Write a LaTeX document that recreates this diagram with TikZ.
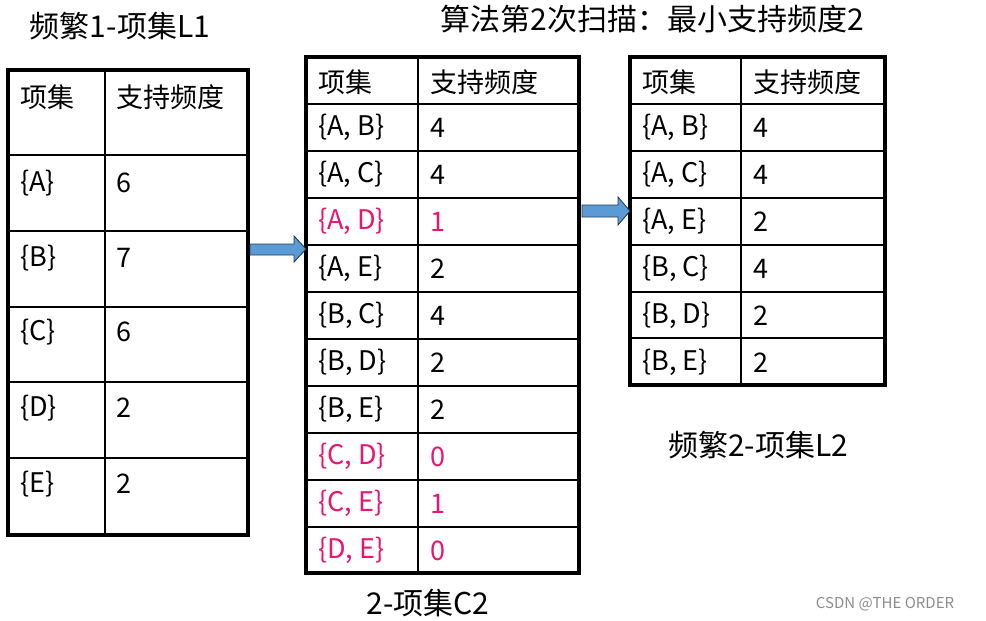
\documentclass[tikz,border=0pt]{standalone}
\usepackage{fontspec}
\setmainfont{Noto Sans CJK SC}
\definecolor{redt}{RGB}{235,20,110}
\definecolor{arrb}{RGB}{91,155,213}
\tikzset{x=1pt,y=-1pt,
 outer/.style={line width=3.2pt},
 inner/.style={line width=1.8pt},
 cell/.style={anchor=west,font=\fontsize{27}{30}\selectfont,inner sep=0pt},
 ttl/.style={font=\fontsize{30}{33}\selectfont,inner sep=0pt},
 barrow/.style={draw=black!60!arrb,fill=arrb,line width=0.9pt,line join=miter}}
\begin{document}
\begin{tikzpicture}
\useasboundingbox (0,0) rectangle (986,621);
% table 1
\foreach \y in {155,231,307,382,458} \draw[inner] (8,\y) -- (248,\y);
\draw[inner] (105,70) -- (105,535);
\draw[outer] (8,70) rectangle (248,535);
\node[cell] (h1a) at (20,97) {项集};
\node[cell] (h1b) at (116,97) {支持频度};
\foreach \t/\v/\y [count=\i] in {{\{A\}}/6/183,{\{B\}}/7/258,{\{C\}}/6/332,{\{D\}}/2/408,{\{E\}}/2/484}{
 \node[cell] (a\i) at (20,\y) {\t};
 \node[cell] (av\i) at (116,\y) {\v};}
% table 2
\foreach \y in {104,151,198,245,292,339,386,433,480,527} \draw[inner] (306,\y) -- (579,\y);
\draw[inner] (418,57) -- (418,573);
\draw[outer] (306,57) rectangle (579,573);
\node[cell] (h2a) at (318,82) {项集};
\node[cell] (h2b) at (430,82) {支持频度};
\foreach \t/\v/\c [count=\i] in {{\{A, B\}}/4/black,{\{A, C\}}/4/black,{\{A, D\}}/1/redt,{\{A, E\}}/2/black,{\{B, C\}}/4/black,{\{B, D\}}/2/black,{\{B, E\}}/2/black,{\{C, D\}}/0/redt,{\{C, E\}}/1/redt,{\{D, E\}}/0/redt}{
 \node[cell,text=\c] (b\i) at (318,{80.5+47*\i}) {\t};
 \node[cell,text=\c] (bv\i) at (430,{80.5+47*\i}) {\v};}
% table 3
\foreach \y in {104,151,198,245,292,338} \draw[inner] (630,\y) -- (885,\y);
\draw[inner] (741,57) -- (741,385);
\draw[outer] (630,57) rectangle (885,385);
\node[cell] (h3a) at (642,82) {项集};
\node[cell] (h3b) at (753,82) {支持频度};
\foreach \t/\v [count=\i] in {{\{A, B\}}/4,{\{A, C\}}/4,{\{A, E\}}/2,{\{B, C\}}/4,{\{B, D\}}/2,{\{B, E\}}/2}{
 \node[cell] (c\i) at (642,{80.5+47*\i}) {\t};
 \node[cell] (cv\i) at (753,{80.5+47*\i}) {\v};}
% arrows
\draw[barrow] (250,244) -- (294,244) -- (294,236) -- (306,249) -- (294,262) -- (294,255) -- (250,255) -- cycle;
\draw[barrow] (582,205) -- (618,205) -- (618,197) -- (630,211) -- (618,225) -- (618,217) -- (582,217) -- cycle;
% titles
\node[ttl] (t1) at (120,26) {频繁1-项集L1};
\node[ttl] (t2) at (652,19) {算法第2次扫描：最小支持频度2};
\node[ttl] (t3) at (758,445) {频繁2-项集L2};
\node[ttl] (t4) at (428,603) {2-项集C2};
\node[font=\fontsize{15}{17}\selectfont,text=black!45,inner sep=0pt] (wm) at (885,604) {CSDN @THE ORDER};
\end{tikzpicture}
\end{document}
